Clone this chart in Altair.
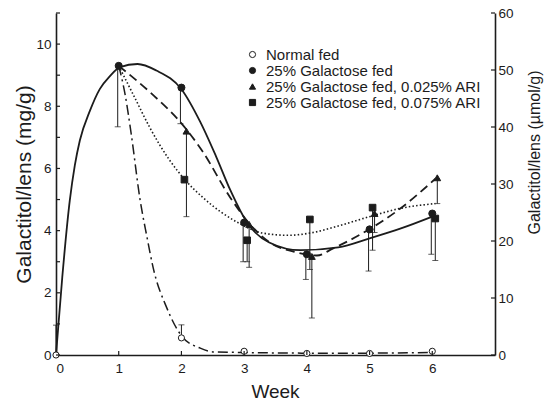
import altair as alt
import pandas as pd

# ---------------- data ----------------
series_names = [
    "Normal fed",
    "25% Galactose fed",
    "25% Galactose fed, 0.025% ARI",
    "25% Galactose fed, 0.075% ARI",
]

# measured points (mg/g)
normal_week = [0, 2, 3, 4, 5, 6]
normal_val = [0.0, 0.55, 0.12, 0.05, 0.05, 0.12]
gal_week = [1, 2, 3, 4, 5, 6]
gal_val = [9.3, 8.6, 4.26, 3.24, 4.04, 4.55]
ari25_week = [1, 2, 3, 4, 5, 6]
ari25_val = [9.3, 7.2, 4.2, 3.17, 4.55, 5.7]
ari75_week = [1, 2, 3, 4, 5, 6]
ari75_val = [9.3, 5.64, 3.69, 4.36, 4.74, 4.39]

# error bars: series, week, low, high
err_series = (["Normal fed"] * 2
              + ["25% Galactose fed"] * 6
              + ["25% Galactose fed, 0.025% ARI"] * 5
              + ["25% Galactose fed, 0.075% ARI"] * 4)
err_week = [0, 2,
            1, 2, 3, 4, 5, 6,
            2, 3, 4, 5, 6,
            3, 4, 5, 6]
err_lo = [0.0, 0.55,
          7.34, 7.44, 3.0, 2.43, 2.7, 3.24,
          4.45, 2.82, 1.19, 3.94, 4.87,
          3.0, 2.75, 3.37, 3.04]
err_hi = [0.96, 0.97,
          9.3, 8.6, 4.26, 3.24, 4.04, 4.55,
          7.2, 4.2, 3.17, 4.55, 5.7,
          3.69, 4.36, 4.74, 4.39]

# fitted curves
solid_week = [0, 0.1, 0.22, 0.3, 0.38, 0.54, 0.7, 0.86, 1.02, 1.3, 1.6, 2.0, 2.3, 2.55,
              2.78, 3.05, 3.4, 3.9, 4.5, 5.0, 5.5, 6.0]
solid_val = [0, 2.5, 4.97, 6.1, 6.9, 7.85, 8.56, 8.97, 9.26, 9.36, 9.15, 8.55, 7.5, 6.4,
             5.3, 4.25, 3.62, 3.37, 3.46, 3.75, 4.07, 4.45]
dashed_week = [1.0, 1.5, 2.0, 2.33, 2.78, 3.14, 3.41, 3.84, 4.16, 4.42, 4.96, 5.49, 6.05]
dashed_val = [9.3, 8.45, 7.45, 6.57, 5.06, 4.1, 3.62, 3.3, 3.2, 3.43, 4.0, 4.71, 5.67]
dotted_week = [1.0, 1.25, 1.5, 1.8, 2.05, 2.35, 2.9, 3.3, 3.7, 4.1, 4.5, 5.0, 5.5, 6.05]
dotted_val = [9.3, 8.3, 7.3, 6.3, 5.65, 5.05, 4.26, 3.92, 3.85, 3.94, 4.15, 4.45, 4.72, 4.87]
dashdot_week = [1.0, 1.1, 1.2, 1.34, 1.45, 1.55, 1.77, 2.0, 2.3, 2.5, 3.0, 4.0, 5.0, 6.0]
dashdot_val = [9.3, 8.4, 7.1, 5.0, 3.8, 2.8, 1.5, 0.62, 0.22, 0.1, 0.08, 0.06, 0.06, 0.08]

x_tick_labels = [0, 1, 2, 3, 4, 5, 6]
x_minor_ticks = [1, 2, 3, 4, 5, 6]
left_labels = [0, 2, 4, 6, 8, 10]
left_ticks = list(range(0, 12))
right_labels = [0, 10, 20, 30, 40, 50, 60]

# ---------------- styling ----------------
W, H = 439, 342
FONT = "Liberation Sans"
INK = "#1c1c1c"

xscale = alt.Scale(domain=[0, 7], nice=False, zero=False)
yscale = alt.Scale(domain=[0, 11], nice=False)

x_axis = alt.Axis(values=x_tick_labels, format="d", ticks=False, tickSize=0, grid=False,
                  labelFontSize=13.5, labelPadding=6, labelFont=FONT, labelColor=INK,
                  title="Week", titleFont=FONT, titleFontSize=19, titleFontWeight="normal",
                  titleColor=INK, titleBaseline="alphabetic", titleX=219, titleY=42,
                  domainColor=INK, domainWidth=1.6)
y_axis = alt.Axis(values=left_labels, format="d", ticks=False, tickSize=0, grid=False,
                  labelFontSize=13.5, labelPadding=5, labelFont=FONT, labelColor=INK,
                  title="Galactitol/lens (mg/g)", titleFont=FONT, titleFontSize=21,
                  titleFontWeight="normal", titleColor=INK, titleAngle=270,
                  titleBaseline="middle", titleX=-32, titleY=171,
                  domainColor=INK, domainWidth=1.6)


def X(field):
    return alt.X(field, type="quantitative", scale=xscale, axis=x_axis, title="Week")


def Y(field):
    return alt.Y(field, type="quantitative", scale=yscale, axis=y_axis,
                 title="Galactitol/lens (mg/g)")


shape_scale = alt.Scale(domain=series_names, range=["circle", "circle", "triangle-up", "square"])
fill_scale = alt.Scale(domain=series_names, range=["white", INK, INK, INK])
stroke_scale = alt.Scale(domain=series_names, range=[INK, INK, INK, INK])
legend = alt.Legend(orient="none", legendX=189, legendY=34, title=None,
                    labelFont=FONT, labelFontSize=15, labelColor=INK, labelOffset=6,
                    labelLimit=400, symbolSize=38, symbolStrokeWidth=1,
                    rowPadding=0, padding=0)

offsets = {series_names[0]: 0, series_names[1]: -1, series_names[2]: 5, series_names[3]: 3}
sizes = {series_names[0]: 38, series_names[1]: 50, series_names[2]: 46, series_names[3]: 44}

# ---------------- tables ----------------
pts = pd.DataFrame({
    "series": [series_names[0]] * len(normal_week) + [series_names[1]] * len(gal_week)
              + [series_names[2]] * len(ari25_week) + [series_names[3]] * len(ari75_week),
    "week": normal_week + gal_week + ari25_week + ari75_week,
    "val": normal_val + gal_val + ari25_val + ari75_val,
})
err = pd.DataFrame({"series": err_series, "week": err_week, "lo": err_lo, "hi": err_hi})
err["cap"] = [h if s == series_names[0] else l for s, l, h in zip(err_series, err_lo, err_hi)]

curves = [
    (solid_week, solid_val, {"strokeWidth": 1.8}),
    (dashed_week, dashed_val, {"strokeWidth": 1.8, "strokeDash": [9, 5]}),
    (dotted_week, dotted_val, {"strokeWidth": 1.6, "strokeDash": [1.5, 2.2]}),
    (dashdot_week, dashdot_val, {"strokeWidth": 1.5, "strokeDash": [10, 4, 2, 4]}),
]

layers = []
for wk, vv, style in curves:
    df = pd.DataFrame({"week": wk, "val": vv})
    layers.append(alt.Chart(df).mark_line(color=INK, interpolate="monotone", **style)
                  .encode(x=X("week"), y=Y("val")))

for name in series_names:
    e = err[err["series"] == name]
    off = offsets[name]
    layers.append(alt.Chart(e).mark_rule(color=INK, strokeWidth=1, xOffset=off)
                  .encode(x=X("week"), y=Y("lo"), y2="hi"))
    layers.append(alt.Chart(e).mark_tick(color=INK, orient="horizontal", size=6,
                                         thickness=1, xOffset=off)
                  .encode(x=X("week"), y=Y("cap")))


def point_layer(df, name, off):
    return (alt.Chart(df).mark_point(filled=True, strokeWidth=1, opacity=1,
                                     size=sizes[name], xOffset=off)
            .encode(x=X("week"), y=Y("val"),
                    shape=alt.Shape("series:N", scale=shape_scale, legend=legend),
                    fill=alt.Fill("series:N", scale=fill_scale, legend=legend),
                    stroke=alt.Stroke("series:N", scale=stroke_scale, legend=legend)))


# at week 1 all groups coincide; only the galactose-fed circle is visible there
for name in [series_names[3], series_names[2], series_names[0], series_names[1]]:
    p = pts[pts["series"] == name]
    if name in (series_names[2], series_names[3]):
        p = p[p["week"] != 1]
    layers.append(point_layer(p, name, offsets[name] if name != series_names[1] else 0))

# inward axis ticks
layers.append(alt.Chart(pd.DataFrame({"v": left_ticks})).mark_rule(color=INK, strokeWidth=1.2)
              .encode(y=Y("v"), x=alt.value(0), x2=alt.value(4)))
layers.append(alt.Chart(pd.DataFrame({"v": x_minor_ticks})).mark_rule(color=INK, strokeWidth=1.2)
              .encode(x=X("v"), y=alt.value(H), y2=alt.value(H - 4)))

left = alt.layer(*layers)

right = alt.Chart(pd.DataFrame({"v": right_labels})).mark_rule(color=INK, strokeWidth=1.2).encode(
    y=alt.Y("v:Q", scale=alt.Scale(domain=[0, 60], nice=False),
            axis=alt.Axis(orient="right", values=right_labels, format="d", ticks=False,
                          tickSize=0, grid=False, labelFontSize=13.5, labelPadding=3,
                          labelFont=FONT, labelColor=INK,
                          title="Galactitol/lens (µmol/g)", titleFont=FONT, titleFontSize=16,
                          titleFontWeight="normal", titleColor=INK, titleAngle=270,
                          titleBaseline="middle", titleX=39, titleY=139,
                          domainColor=INK, domainWidth=1.6),
            title="Galactitol/lens (µmol/g)"),
    x=alt.value(W - 4), x2=alt.value(W),
)

chart = (alt.layer(left, right)
         .resolve_scale(y="independent")
         .properties(width=W, height=H,
                     autosize=alt.AutoSizeParams(type="none"),
                     padding={"left": 56, "top": 13, "right": 61, "bottom": 46},
                     background="white")
         .configure_view(stroke=None))

chart.save("out.html", embed_options={"renderer": "svg", "actions": False})
